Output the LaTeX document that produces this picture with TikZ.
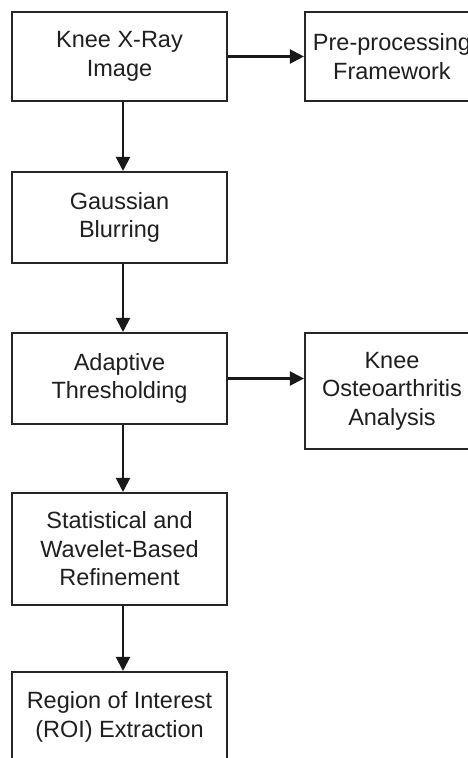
\documentclass[tikz,border=0pt]{standalone}
\usepackage{fontspec}
\setmainfont{Liberation Sans}
\usetikzlibrary{arrows.meta}
\begin{document}
\begin{tikzpicture}[x=1pt,y=1pt,
  box/.style={draw=black!85, line width=2.1pt, fill=white, align=center, inner sep=0pt,
    font=\fontsize{23.5}{28.5}\selectfont, text=black!88},
  conn/.style={line width=2.1pt, draw=black!90, -{Triangle[length=14pt,width=14pt]}}]
\useasboundingbox (0,0) rectangle (467,-758);
\node[box, minimum width=215pt, minimum height=89pt] (b1) at (119.5,-56.5) {Knee X-Ray\\Image};
\node[box, minimum width=174pt, minimum height=89pt] (b2) at (392,-56.5) {Pre-processing\\Framework};
\node[box, minimum width=215pt, minimum height=91pt] (b3) at (119.5,-217.5) {Gaussian\\Blurring};
\node[box, minimum width=215pt, minimum height=91pt] (b4) at (119.5,-378.5) {Adaptive\\Thresholding};
\node[box, minimum width=174pt, minimum height=116pt] (b5) at (392,-391) {Knee\\Osteoarthritis\\Analysis};
\node[box, minimum width=215pt, minimum height=112pt] (b6) at (119.5,-549) {Statistical and\\Wavelet-Based\\Refinement};
\node[box, minimum width=215pt, minimum height=90pt] (b7) at (119.5,-717) {Region of Interest\\(ROI) Extraction};
\draw[conn] (b1.east) -- (b1.east -| b2.west);
\draw[conn] ([xshift=3.5pt]b1.south) -- ([xshift=3.5pt]b3.north);
\draw[conn] ([xshift=3.5pt]b3.south) -- ([xshift=3.5pt]b4.north);
\draw[conn] (b4.east) -- (b4.east -| b5.west);
\draw[conn] ([xshift=3.5pt]b4.south) -- ([xshift=3.5pt]b6.north);
\draw[conn] ([xshift=3.5pt]b6.south) -- ([xshift=3.5pt]b7.north);
\end{tikzpicture}
\end{document}
